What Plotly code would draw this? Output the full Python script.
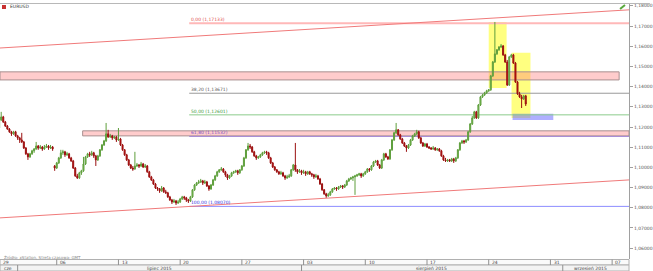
import plotly.graph_objects as go

# ---------------- data (EURUSD, H4 bars; bar index 0 = Mon 29 Jun 2015 00:00) ----------------
FIRST_BAR = 2
# prices in pips (1/10000)
closes_pips = [
    11235, 11250, 11225, 11205, 11190, 11176, 11166, 11176, 11156, 11146,
    11136, 11126, 11096, 11067, 11052, 11067, 11082, 11091, 11106, 11096,
    11101, 11091, 11101, 11106, 11096, 11101, 11091, 10997, 11022, 11047,
    11072, 11077, 11062, 11067, 11047, 11032, 10997, 10958, 10948, 10973,
    10983, 11017, 11052, 11067, 11062, 11072, 11057, 11037, 11057, 11087,
    11111, 11131, 11166, 11151, 11156, 11146, 11151, 11136, 11141, 11111,
    11087, 11062, 11037, 11012, 10997, 10992, 11007, 11012, 11007, 11017,
    11002, 11007, 10978, 10953, 10938, 10918, 10898, 10893, 10884, 10898,
    10879, 10874, 10854, 10839, 10829, 10834, 10824, 10829, 10844, 10854,
    10849, 10839, 10834, 10854, 10889, 10913, 10923, 10928, 10933, 10923,
    10928, 10908, 10893, 10913, 10938, 10958, 10978, 10988, 10992, 10978,
    10963, 10948, 10958, 10973, 10978, 10983, 10973, 10988, 11007, 11047,
    11087, 11106, 11101, 11077, 11057, 11047, 11052, 11062, 11072, 11077,
    11072, 11047, 11022, 11002, 10988, 10978, 10968, 10973, 10958, 10948,
    10953, 10958, 10988, 11012, 10988, 10978, 10983, 10973, 10978, 10968,
    10978, 10968, 10963, 10953, 10958, 10943, 10918, 10889, 10869, 10859,
    10864, 10879, 10893, 10898, 10893, 10903, 10908, 10903, 10913, 10933,
    10943, 10948, 10953, 10958, 10963, 10968, 10958, 10968, 10978, 10992,
    10988, 11007, 11027, 11032, 11012, 10997, 11037, 11067, 11052, 11042,
    11087, 11136, 11171, 11186, 11161, 11141, 11121, 11106, 11096, 11111,
    11136, 11156, 11166, 11176, 11146, 11121, 11106, 11116, 11101, 11096,
    11091, 11096, 11087, 11091, 11082, 11057, 11037, 11032, 11037, 11032,
    11042, 11032, 11047, 11087, 11121, 11131, 11126, 11136, 11176, 11215,
    11245, 11275, 11245, 11309, 11349, 11359, 11369, 11379, 11384, 11453,
    11522, 11562, 11582, 11596, 11601, 11557, 11522, 11408, 11547, 11557,
    11517, 11423, 11364, 11349, 11339, 11354, 11314,
]
highs_pips = [
    11250, 11275, 11255, 11230, 11210, 11195, 11181, 11181, 11181, 11161,
    11151, 11171, 11131, 11101, 11072, 11072, 11087, 11096, 11126, 11111,
    11111, 11106, 11111, 11116, 11111, 11111, 11106, 11012, 11027, 11052,
    11087, 11087, 11082, 11077, 11072, 11052, 11037, 11002, 10968, 10978,
    10988, 11052, 11057, 11072, 11077, 11082, 11077, 11062, 11062, 11091,
    11116, 11136, 11220, 11186, 11166, 11161, 11156, 11156, 11195, 11146,
    11116, 11091, 11067, 11042, 11017, 11007, 11077, 11022, 11017, 11027,
    11022, 11017, 11012, 10983, 10958, 10943, 10923, 10903, 10898, 10908,
    10903, 10889, 10879, 10859, 10844, 10844, 10839, 10839, 10849, 10859,
    10859, 10854, 10844, 10859, 10893, 10918, 10928, 10938, 10943, 10938,
    10938, 10933, 10913, 10918, 10943, 10963, 10983, 10992, 11002, 10997,
    10983, 10968, 10963, 10978, 10983, 10988, 10988, 10992, 11012, 11052,
    11091, 11121, 11116, 11106, 11082, 11062, 11057, 11067, 11077, 11082,
    11082, 11077, 11052, 11027, 11007, 10992, 10983, 10983, 10978, 10963,
    10963, 10968, 10992, 11017, 11121, 10992, 10992, 10988, 10988, 10983,
    10983, 10983, 10973, 10968, 10968, 10963, 10948, 10923, 10893, 10874,
    10874, 10884, 10898, 10903, 10903, 10908, 10913, 10913, 10918, 10938,
    10948, 10953, 10958, 10963, 10968, 10973, 10973, 10973, 10983, 10997,
    10997, 11012, 11032, 11037, 11037, 11017, 11042, 11072, 11072, 11057,
    11091, 11141, 11176, 11220, 11190, 11166, 11146, 11126, 11111, 11116,
    11141, 11161, 11171, 11186, 11181, 11151, 11126, 11121, 11121, 11106,
    11101, 11106, 11101, 11096, 11096, 11087, 11062, 11047, 11042, 11042,
    11047, 11047, 11052, 11091, 11126, 11136, 11136, 11141, 11181, 11220,
    11255, 11280, 11280, 11314, 11354, 11364, 11374, 11384, 11388, 11458,
    11527, 11720, 11586, 11601, 11611, 11606, 11562, 11532, 11552, 11562,
    11562, 11522, 11428, 11374, 11359, 11359, 11359,
]
lows_pips = [
    11190, 11230, 11220, 11200, 11186, 11171, 11156, 11161, 11151, 11136,
    11121, 11121, 11091, 11062, 11037, 11047, 11062, 11072, 11087, 11087,
    11091, 11082, 11087, 11096, 11087, 11091, 11082, 10983, 10992, 11017,
    11042, 11062, 11052, 11057, 11042, 11027, 10992, 10953, 10943, 10943,
    10963, 10978, 11012, 11047, 11052, 11057, 11047, 11007, 11032, 11052,
    11082, 11106, 11126, 11146, 11146, 11136, 11141, 11126, 11131, 11106,
    11082, 11057, 11032, 11007, 10992, 10983, 10988, 11002, 10997, 11002,
    10997, 10997, 10973, 10948, 10933, 10913, 10893, 10884, 10874, 10879,
    10874, 10869, 10849, 10834, 10819, 10824, 10814, 10819, 10824, 10839,
    10839, 10829, 10824, 10829, 10849, 10884, 10908, 10918, 10923, 10913,
    10918, 10903, 10884, 10889, 10908, 10933, 10953, 10973, 10983, 10973,
    10953, 10938, 10943, 10953, 10968, 10973, 10963, 10968, 10983, 11002,
    11042, 11082, 11091, 11072, 11052, 11037, 11042, 11047, 11057, 11067,
    11062, 11042, 11017, 10997, 10983, 10973, 10963, 10963, 10953, 10938,
    10943, 10948, 10953, 10983, 10978, 10968, 10973, 10963, 10968, 10958,
    10963, 10963, 10953, 10943, 10948, 10938, 10913, 10884, 10864, 10849,
    10854, 10859, 10874, 10889, 10884, 10889, 10898, 10893, 10898, 10908,
    10928, 10938, 10933, 10864, 10953, 10958, 10948, 10953, 10963, 10973,
    10978, 10983, 11002, 11022, 11007, 10992, 10992, 11032, 11047, 11037,
    11037, 11082, 11131, 11166, 11156, 11136, 11116, 11101, 11077, 11091,
    11106, 11131, 11151, 11161, 11141, 11116, 11101, 11101, 11096, 11091,
    11087, 11087, 11082, 11082, 11077, 11052, 11032, 11027, 11027, 11027,
    11027, 11022, 11027, 11042, 11082, 11116, 11116, 11121, 11131, 11171,
    11210, 11240, 11240, 11240, 11304, 11344, 11354, 11364, 11374, 11379,
    11448, 11517, 11557, 11577, 11591, 11552, 11517, 11403, 11403, 11542,
    11512, 11418, 11359, 11344, 11294, 11334, 11304,
]
first_open_pips = 11195
session_gap_opens_pips = {29: 11007}   # Monday 6 Jul opening gap

week_start_bars = [0, 30, 60, 90, 120, 150, 180, 210, 240, 270, 300]
week_labels = ["29", "06", "13", "20", "27", "03", "10", "17", "24", "31", "07"]
month_labels = ["cze", "lipiec 2015", "sierpień 2015", "wrzesień 2015"]
month_label_bars = [6.3, 80.0, 212.0, 289.5]
month_boundary_bars = [11, 149, 276]
y_ticks = [1.06, 1.07, 1.08, 1.09, 1.10, 1.11, 1.12, 1.13, 1.14, 1.15, 1.16, 1.17, 1.18]

fib_high = 1.17133
fib_low = 1.08070
fib_levels = [0.0, 38.2, 50.0, 61.8, 100.0]
fib_colors = ["#FFB8B8", "#9A9A9A", "#8CCB8C", "#A58AD6", "#8C8CFF"]
fib_text_colors = ["#E05050", "#555555", "#3A9A3A", "#7A4FC0", "#3333DD"]

# ---------------- build OHLC ----------------
n = min(len(closes_pips), len(highs_pips), len(lows_pips))
bars = [FIRST_BAR + i for i in range(n)]
closes = [c / 10000 for c in closes_pips[:n]]
highs = [h / 10000 for h in highs_pips[:n]]
lows = [l / 10000 for l in lows_pips[:n]]
opens = [first_open_pips / 10000] + closes[:-1]
for b, o in session_gap_opens_pips.items():
    opens[b - FIRST_BAR] = o / 10000

X0, X1 = 2.42, 308.2
Y0, Y1 = 1.05465, 1.18089
PLOT_W, PLOT_H, TOP = 632, 255, 4


def px(xpix):  # paper x from pixel
    return xpix / PLOT_W


def py(ypix):  # paper y from pixel
    return (TOP + PLOT_H - ypix) / PLOT_H


fig = go.Figure()
fig.add_trace(go.Candlestick(
    x=bars, open=opens, high=highs, low=lows, close=closes,
    increasing=dict(fillcolor="#86C95E", line=dict(color="#5E9E3C", width=1)),
    decreasing=dict(fillcolor="#D40000", line=dict(color="#9A1010", width=1)),
    whiskerwidth=0, showlegend=False, hoverinfo="skip",
))

shapes = []
# yellow highlight boxes
shapes.append(dict(type="rect", xref="x", yref="y", x0=240.0, x1=248.7, y0=1.1393, y1=1.1720,
                   fillcolor="#FFFF80", line=dict(width=0), layer="below"))
shapes.append(dict(type="rect", xref="x", yref="y", x0=251.1, x1=260.3, y0=1.1245, y1=1.1567,
                   fillcolor="#FFFF80", line=dict(width=0), layer="below"))
# resistance / support bands
shapes.append(dict(type="rect", xref="x", yref="y", x0=X0, x1=303.4, y0=1.1433, y1=1.1473,
                   fillcolor="rgba(255,120,120,0.38)", line=dict(color="#A89090", width=1), layer="below"))
shapes.append(dict(type="rect", xref="x", yref="y", x0=42.6, x1=X1, y0=1.1156, y1=1.1181,
                   fillcolor="rgba(255,120,120,0.38)", line=dict(color="#A89090", width=1), layer="below"))
# blue target box
shapes.append(dict(type="rect", xref="x", yref="y", x0=251.6, x1=271.4, y0=1.1235, y1=1.1265,
                   fillcolor="rgba(110,110,255,0.55)", line=dict(width=0), layer="below"))
# trend lines
shapes.append(dict(type="line", xref="x", yref="y", x0=X0, y0=1.1591, x1=X1, y1=1.1780,
                   line=dict(color="#F07A7A", width=1)))
shapes.append(dict(type="line", xref="x", yref="y", x0=X0, y0=1.0750, x1=X1, y1=1.0938,
                   line=dict(color="#F07A7A", width=1)))

annotations = []
# Fibonacci retracement
fib_x0 = 94.4
for lvl, lc, tc in zip(fib_levels, fib_colors, fib_text_colors):
    price = fib_high - (fib_high - fib_low) * lvl / 100
    shapes.append(dict(type="line", xref="x", yref="y", x0=fib_x0, x1=X1, y0=price, y1=price,
                       line=dict(color=lc, width=2 if lvl == 0 else 1), layer="below"))
    label = f"{lvl:.2f} ({price:.5f})".replace(".", ",")
    annotations.append(dict(x=fib_x0, y=price, xref="x", yref="y", text=label, showarrow=False,
                            xanchor="left", yanchor="bottom", yshift=-1,
                            font=dict(size=4.5, color=tc, family="DejaVu Sans")))

# time axis strip (two rows)
strip_color = "#F3F3F3"
shapes.append(dict(type="rect", xref="paper", yref="paper", x0=0, x1=1, y0=py(265), y1=py(259.5),
                   fillcolor="#FAFAFA", line=dict(color="#B0B0B0", width=1)))
shapes.append(dict(type="rect", xref="paper", yref="paper", x0=0, x1=1, y0=py(271), y1=py(265),
                   fillcolor=strip_color, line=dict(color="#B0B0B0", width=1)))
for b, lab in zip(week_start_bars, week_labels):
    if X0 <= b <= X1:
        shapes.append(dict(type="line", xref="x", yref="paper", x0=b, x1=b, y0=py(265), y1=py(259.5),
                           line=dict(color="#909090", width=1)))
    annotations.append(dict(x=max(b, X0) + 0.6, y=py(262.3), xref="x", yref="paper", text=lab,
                            showarrow=False, xanchor="left", yanchor="middle",
                            font=dict(size=4.5, color="#444", family="DejaVu Sans")))
for b in month_boundary_bars:
    shapes.append(dict(type="line", xref="x", yref="paper", x0=b, x1=b, y0=py(271), y1=py(265),
                       line=dict(color="#909090", width=1)))
for b, lab in zip(month_label_bars, month_labels):
    annotations.append(dict(x=b, y=py(268.2), xref="x", yref="paper", text=lab,
                            showarrow=False, xanchor="center", yanchor="middle",
                            font=dict(size=4.5, color="#444", family="DejaVu Sans")))

# frame lines
shapes.append(dict(type="line", xref="paper", yref="paper", x0=0, x1=653 / PLOT_W, y0=py(3.5), y1=py(3.5),
                   line=dict(color="#B8B8B8", width=1)))
# symbol header
shapes.append(dict(type="rect", xref="paper", yref="paper", x0=px(2), x1=px(6), y0=py(9), y1=py(5),
                   fillcolor="#C83030", line=dict(width=0)))
annotations.append(dict(x=px(8), y=py(7), xref="paper", yref="paper", text="EURUSD",
                        showarrow=False, xanchor="left", yanchor="middle",
                        font=dict(size=4.5, color="#333", family="DejaVu Sans")))
annotations.append(dict(x=px(2), y=py(257), xref="paper", yref="paper",
                        text="Źródło: xStation, Strefa czasowa: GMT",
                        showarrow=False, xanchor="left", yanchor="middle",
                        font=dict(size=4, color="#888", family="DejaVu Sans")))
# pencil icon
shapes.append(dict(type="line", xref="paper", yref="paper", x0=px(623), y0=py(9), x1=px(628), y1=py(5),
                   line=dict(color="#5AA83C", width=2)))

fig.update_layout(
    width=653, height=271,
    margin=dict(l=0, r=21, t=TOP, b=271 - TOP - PLOT_H),
    paper_bgcolor="white", plot_bgcolor="white",
    separators=", ",
    showlegend=False,
    shapes=shapes, annotations=annotations,
    xaxis=dict(range=[X0, X1], showgrid=False, zeroline=False, showticklabels=False,
               rangeslider=dict(visible=False), showline=False, fixedrange=True),
    yaxis=dict(range=[Y0, Y1], side="right", tickvals=y_ticks, tickformat=".5f",
               showgrid=False, zeroline=False, showline=True, linecolor="#A0A0A0", linewidth=1,
               ticks="outside", ticklen=3, tickcolor="#A0A0A0",
               tickfont=dict(size=4.5, color="#555", family="DejaVu Sans")),
)

fig.write_html("out.html")
